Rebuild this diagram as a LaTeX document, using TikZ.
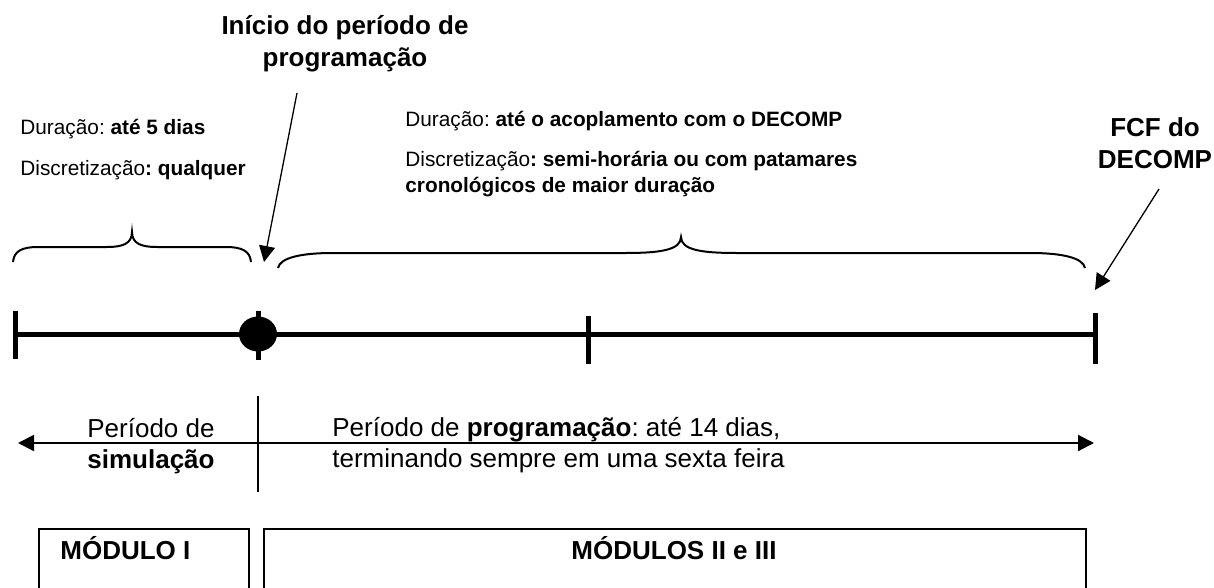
\documentclass[tikz,border=0pt]{standalone}
\usepackage{fontspec}
\setmainfont{Liberation Sans}
\frenchspacing
\usetikzlibrary{arrows.meta,positioning,shapes.geometric}

\begin{document}
\begin{tikzpicture}
        [
            x = 0.5pt, y = -0.5pt,
            > = {Triangle[length=8pt, width=8pt]},
            axis/.style = {line width=2.5pt},
            tickmark/.style = {line width=2.5pt},
            brace/.style = {line width=1pt},
            pointer/.style = {->, line width=0.65pt},
            span/.style = {<->, line width=1pt},
            note/.style = {font=\fontsize{10.4}{12}\selectfont, inner sep=0pt},
            head/.style = {font=\fontsize{13}{16}\selectfont\bfseries, align=center, inner sep=0pt},
            period/.style = {font=\fontsize{13}{15}\selectfont, inner sep=0pt},
            module/.style = {draw, line width=0.8pt, minimum height=31pt,
                anchor=north west, inner sep=0pt}
        ]
        \useasboundingbox (0,0) rectangle (1214,588);

        % time axis
        \coordinate (t0) at (15,334);
        \coordinate (t1) at (258,334);
        \coordinate (t2) at (588,334);
        \coordinate (t3) at (1095,334);
        \draw [axis] (t0) -- (t3);
        \foreach \t/\up/\down in {t0/11.5/-12.5, t1/11.5/-13, t2/9/-15, t3/10.5/-15}
            \draw [tickmark] ([yshift=\up pt]\t) -- ([yshift=\down pt]\t);
        \node [ellipse, fill, minimum width=19pt, minimum height=17.5pt, inner sep=0pt] (start) at (t1) {};

        % braces
        \draw [brace] (13,262) .. controls (14,251) and (22,247) .. (38,247) -- (107,247)
            .. controls (122,247) and (132,244) .. (132,232)
            .. controls (132,244) and (142,247) .. (157,247) -- (226,247)
            .. controls (242,247) and (250,251) .. (251,262);
        \draw [brace] (278,268) .. controls (280,258) and (300,253) .. (333,253) -- (626,253)
            .. controls (660,253) and (681,250) .. (681,237)
            .. controls (681,250) and (702,253) .. (736,253) -- (1030,253)
            .. controls (1063,253) and (1083,258) .. (1085,268);

        % headings and pointers
        \node [head] (inicio) at (345,44) {Início do período de\\programação};
        \node [head] (fcf) at (1155,143) {FCF do\\DECOMP};
        \coordinate (inicioFrom) at (297,93);
        \coordinate (inicioTo) at (264,262);
        \coordinate (fcfFrom) at (1159,189);
        \coordinate (fcfTo) at (1095,290);
        \draw [pointer] (inicioFrom) -- (inicioTo);
        \draw [pointer] (fcfFrom) -- (fcfTo);

        % notes above the braces
        \node [note, anchor=base west] (durSim) at (20,135) {Duração: \textbf{até 5 dias}};
        \node [note, anchor=base west] (discSim) at (20,176) {Discretização\textbf{: qualquer}};
        \node [note, anchor=base west] (durProg) at (405,127) {Duração: \textbf{até o acoplamento com o DECOMP}};
        \node [note, anchor=base west] (discProg) at (405,167) {Discretização\textbf{: semi-horária ou com patamares}};
        \node [note, anchor=base west] (cronProg) at ([yshift=-13pt]discProg.base west) {\textbf{cronológicos de maior duração}};

        % periods
        \coordinate (simEnd) at (18,443);
        \coordinate (progEnd) at (1094,443);
        \coordinate (sepTop) at (258,396);
        \coordinate (sepBot) at (258,492);
        \draw [span] (simEnd) -- (progEnd);
        \draw [line width=0.7pt] (sepTop) -- (sepBot);
        \node [period, anchor=base] (simText) at (151,437) {Período de};
        \node [period, anchor=base] (simText2) at ([yshift=-15.5pt]simText.base) {\textbf{simulação}};
        \node [period, anchor=base west] (progText) at (332,436) {Período de \textbf{programação}: até 14 dias,};
        \node [period, anchor=base west] (progText2) at ([yshift=-15.5pt]progText.base west) {terminando sempre em uma sexta feira};

        % modules
        \node [module, minimum width=105pt] (modI) at (38,528) {};
        \node [module, minimum width=411pt] (modII) at (263,528) {};
        \node [head, anchor=base west] (modIName) at (60,559) {MÓDULO I};
        \node [head, anchor=base] (modIIName) at (674,559) {MÓDULOS II e III};
    \end{tikzpicture}
\end{document}
